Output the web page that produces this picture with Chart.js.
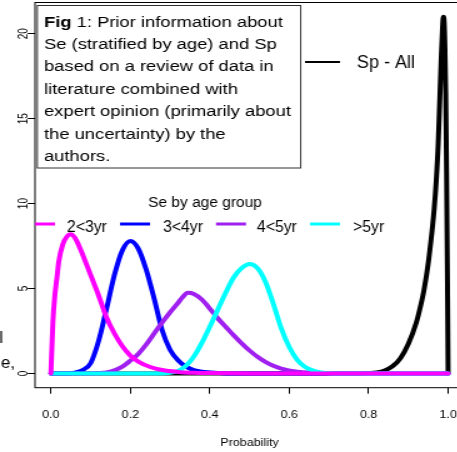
<!DOCTYPE html>
<html>
<head>
<meta charset="utf-8">
<script src="https://cdn.jsdelivr.net/npm/chart.js@4.4.1/dist/chart.umd.min.js"></script>
<style>
  html, body { margin: 0; padding: 0; background: #fff; overflow: hidden; }
  #grafico { width: 470px !important; height: 452px !important; display: block; }
</style>
</head>
<body>
<canvas id="grafico" width="376" height="452"></canvas>
<script>
// Dados (densidades a priori)
const se23X = [0, 0.005, 0.01, 0.015, 0.02, 0.03, 0.04, 0.05, 0.06, 0.07, 0.08, 0.09, 0.10, 0.12, 0.14, 0.16, 0.18, 0.20, 0.22, 0.25, 0.28, 0.32, 0.36, 0.40, 0.45, 0.50, 1.0];
const se23Y = [0, 3.0, 4.6, 5.6, 6.6, 7.6, 8.05, 8.2, 8.0, 7.55, 7.0, 6.4, 5.8, 4.6, 3.3, 2.35, 1.6, 1.05, 0.7, 0.38, 0.2, 0.09, 0.04, 0.02, 0.005, 0, 0];

const se34X = [0, 0.04, 0.06, 0.08, 0.10, 0.12, 0.14, 0.16, 0.18, 0.20, 0.22, 0.24, 0.26, 0.28, 0.30, 0.32, 0.34, 0.36, 0.38, 0.42, 0.46, 1.0];
const se34Y = [0, 0, 0.05, 0.2, 0.6, 1.9, 3.8, 5.8, 7.25, 7.8, 7.35, 6.1, 4.4, 2.55, 1.4, 0.78, 0.4, 0.2, 0.1, 0.03, 0, 0];

const se45X = [0, 0.10, 0.14, 0.16, 0.18, 0.20, 0.22, 0.24, 0.26, 0.28, 0.30, 0.32, 0.33, 0.345, 0.36, 0.38, 0.40, 0.42, 0.44, 0.46, 0.48, 0.50, 0.52, 0.54, 0.56, 0.58, 0.62, 0.66, 0.72, 1.0];
const se45Y = [0, 0, 0.05, 0.18, 0.4, 0.75, 1.15, 1.7, 2.35, 3.0, 3.6, 4.15, 4.45, 4.75, 4.68, 4.35, 3.82, 3.25, 2.75, 2.25, 1.78, 1.35, 0.98, 0.68, 0.45, 0.28, 0.1, 0.04, 0, 0];

const se5X = [0, 0.28, 0.30, 0.32, 0.34, 0.36, 0.38, 0.40, 0.42, 0.44, 0.46, 0.48, 0.50, 0.52, 0.54, 0.56, 0.58, 0.60, 0.62, 0.64, 0.66, 0.68, 0.72, 1.0];
const se5Y = [0, 0, 0.04, 0.15, 0.45, 1.0, 1.8, 2.75, 3.75, 4.75, 5.65, 6.2, 6.45, 6.2, 5.4, 4.1, 2.65, 1.55, 0.8, 0.38, 0.17, 0.06, 0, 0];

const spX = [0, 0.78, 0.80, 0.82, 0.84, 0.86, 0.88, 0.90, 0.92, 0.93, 0.94, 0.95, 0.96, 0.965, 0.97, 0.975, 0.98, 0.983, 0.986, 0.988, 0.990, 0.992, 0.994, 0.996, 0.998, 1.0];
const spY = [0, 0, 0.02, 0.06, 0.17, 0.42, 0.9, 1.75, 3.0, 3.9, 5.0, 6.5, 8.5, 9.7, 11.3, 13.5, 16.8, 18.8, 20.4, 21.0, 20.7, 19.2, 16.5, 12.0, 6.5, 0];

const grupos = ['2<3yr', '3<4yr', '4<5yr', '>5yr'];
const coresGrupos = ['#FF00FF', '#0000FF', '#A020F0', '#00FFFF'];
const xTicks = [0, 0.2, 0.4, 0.6, 0.8, 1.0];
const xTickLabels = ['0.0', '0.2', '0.4', '0.6', '0.8', '1.0'];
const yTicks = [0, 5, 10, 15, 20];
const yTickLabels = ['0', '5', '10', '15', '20'];

const notaFig = ['Fig', ' 1: Prior information about', 'Se (stratified by age) and Sp', 'based on a review of data in',
  'literature combined with', 'expert opinion (primarily about', 'the uncertainty) by the', 'authors.'];

const FONTE = '"Liberation Sans", Arial, Helvetica, sans-serif';
const S = 1.25; // a figura original esta esticada na horizontal
const px = v => v / S;

function pontos(xs, ys) {
    return xs.map((x, i) => ({ x: x, y: ys[i] }));
}

// texto sem o esticamento horizontal
function textoPlano(ctx, texto, x, y, tamanho, alinhar) {
    ctx.save();
    ctx.translate(x, y);
    ctx.scale(1 / S, 1);
    ctx.font = tamanho + 'px ' + FONTE;
    ctx.textAlign = alinhar || 'left';
    ctx.textBaseline = 'alphabetic';
    ctx.fillStyle = '#000';
    ctx.fillText(texto, 0, 0);
    ctx.restore();
}

const anotacoes = {
    id: 'anotacoes',
    afterDraw(chart) {
        const ctx = chart.ctx;
        const a = chart.chartArea;
        ctx.save();
        // moldura do grafico
        ctx.strokeStyle = '#000';
        ctx.lineWidth = 1;
        ctx.strokeRect(a.left, a.top, a.right - a.left, a.bottom - a.top);

        ctx.beginPath();
        ctx.rect(a.left, a.top, a.right - a.left, a.bottom - a.top);
        ctx.clip();

        // caixa com a nota
        ctx.fillStyle = '#fff';
        ctx.fillRect(px(37.3), 5.5, px(300.7 - 37.3), 162.5);
        ctx.strokeStyle = '#333';
        ctx.strokeRect(px(37.3), 5.5, px(300.7 - 37.3), 162.5);

        ctx.fillStyle = '#000';
        ctx.textBaseline = 'alphabetic';
        ctx.textAlign = 'left';
        const x0 = px(44);
        ctx.font = 'bold 14.7px ' + FONTE;
        ctx.fillText(notaFig[0], x0, 26.5);
        const wBold = ctx.measureText(notaFig[0]).width;
        ctx.font = '14.7px ' + FONTE;
        ctx.fillText(notaFig[1], x0 + wBold, 26.5);
        for (let i = 2; i < notaFig.length; i++) {
            ctx.fillText(notaFig[i], x0, 26.5 + 22.4 * (i - 1));
        }

        // legenda Sp
        ctx.strokeStyle = '#000';
        ctx.lineWidth = 2;
        ctx.beginPath();
        ctx.moveTo(px(305), 62);
        ctx.lineTo(px(340), 62);
        ctx.stroke();
        textoPlano(ctx, 'Sp - All', px(357), 68.3, 18);

        // legenda Se
        textoPlano(ctx, 'Se by age group', px(205), 206.7, 15.5, 'center');
        const linhas = [25, 120, 216, 310];
        const textos = [67, 163, 257, 353];
        ctx.lineWidth = 3;
        for (let i = 0; i < grupos.length; i++) {
            ctx.strokeStyle = coresGrupos[i];
            ctx.beginPath();
            ctx.moveTo(px(linhas[i]), 224);
            ctx.lineTo(px(linhas[i] + 30), 224);
            ctx.stroke();
            textoPlano(ctx, grupos[i], px(textos[i]), 231.7, 15.8);
        }
        ctx.restore();

        // restos do rotulo cortado na margem esquerda
        textoPlano(ctx, 'Prior interval', px(3), 343, 17, 'right');
        textoPlano(ctx, 'for Se,', px(15), 368, 17, 'right');
    }
};

Chart.defaults.font.family = FONTE;
Chart.defaults.color = '#000';

const ctxGrafico = document.getElementById('grafico').getContext('2d');
const graficoPrior = new Chart(ctxGrafico, {
    type: 'line',
    data: {
        datasets: [
            { label: grupos[0], data: pontos(se23X, se23Y), borderColor: coresGrupos[0], order: 0 },
            { label: grupos[3], data: pontos(se5X, se5Y), borderColor: coresGrupos[3], order: 1 },
            { label: grupos[2], data: pontos(se45X, se45Y), borderColor: coresGrupos[2], order: 2 },
            { label: grupos[1], data: pontos(se34X, se34Y), borderColor: coresGrupos[1], order: 3 },
            { label: 'Sp - All', data: pontos(spX, spY), borderColor: '#000', order: 4 }
        ]
    },
    options: {
        responsive: false,
        animation: false,
        devicePixelRatio: 1,
        events: [],
        layout: { autoPadding: false, padding: { left: 0, top: 2.5, right: 4.8, bottom: 0 } },
        elements: {
            line: { borderWidth: 4, cubicInterpolationMode: 'monotone', fill: false, borderCapStyle: 'round', borderJoinStyle: 'round' },
            point: { radius: 0 }
        },
        plugins: {
            legend: { display: false },
            tooltip: { enabled: false }
        },
        scales: {
            x: {
                type: 'linear',
                min: -0.04,
                max: 1.04,
                afterBuildTicks: s => { s.ticks = xTicks.map(v => ({ value: v })); },
                afterFit: s => { s.height = 452 - 387.7; s.paddingLeft = 0; s.paddingRight = 0; },
                border: { display: false },
                grid: { display: true, drawOnChartArea: false, drawTicks: true, tickLength: 6, color: '#000', lineWidth: 1 },
                ticks: {
                    font: { size: 10 },
                    color: '#000',
                    padding: 16,
                    maxRotation: 0,
                    autoSkip: false,
                    callback: (v, i) => xTickLabels[i]
                },
                title: { display: true, text: 'Probability', font: { size: 10 }, color: '#000', padding: { top: 0, bottom: 3 } }
            },
            y: {
                type: 'linear',
                min: -0.84,
                max: 21.84,
                afterBuildTicks: s => { s.ticks = yTicks.map(v => ({ value: v })); },
                afterFit: s => { s.width = 28; s.paddingTop = 0; s.paddingBottom = 0; },
                border: { display: false },
                grid: { display: true, drawOnChartArea: false, drawTicks: true, tickLength: 5.8, color: '#000', lineWidth: 1 },
                ticks: {
                    font: { size: 10 },
                    color: '#000',
                    padding: -3,
                    minRotation: 90,
                    maxRotation: 90,
                    crossAlign: 'center',
                    autoSkip: false,
                    callback: (v, i) => yTickLabels[i]
                }
            }
        }
    },
    plugins: [anotacoes]
});
</script>
</body>
</html>
